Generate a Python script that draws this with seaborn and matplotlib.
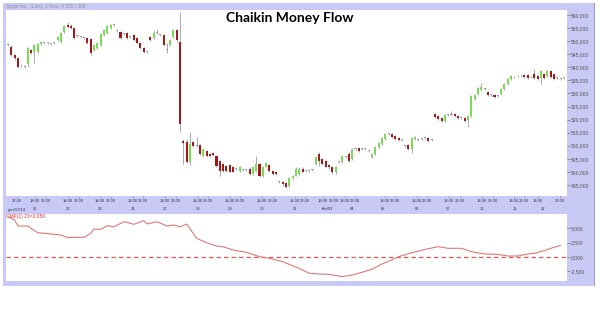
import numpy as np
import pandas as pd
import matplotlib
matplotlib.use("Agg")
import matplotlib.pyplot as plt
import seaborn as sns
from matplotlib.patches import Rectangle
from matplotlib import font_manager

# ---------------- data ----------------
opens = [548.6, 547.9, 544.8, 543.7, 540.7, 540.3, 541.1, 546.7, 546.0, 546.0,
         549.0, 549.4, 549.4, 549.0, 549.4, 550.5, 549.8, 553.6, 556.2, 555.8,
         555.1, 552.0, 551.7, 551.3, 551.3, 550.9, 546.7, 547.5, 548.6, 552.4,
         553.2, 555.1, 556.2, 554.0, 553.6, 552.8, 553.2, 551.7, 552.4, 551.3,
         549.4, 547.5, 546.0, 551.7, 551.3, 553.2, 552.4, 552.4, 546.7, 548.6,
         551.7, 554.3, 549.8, 511.9, 511.5, 503.9, 511.5, 510.0, 510.4, 506.2,
         508.1, 507.0, 507.4, 506.2, 504.3, 503.2, 502.4, 502.8, 502.0, 501.3,
         500.5, 500.9, 500.9, 501.3, 499.4, 500.5, 503.2, 498.3, 502.0, 502.8,
         500.5, 500.1, 496.0, 496.0, 495.6, 494.8, 497.5, 498.6, 499.4, 501.3,
         500.5, 500.5, 500.9, 503.2, 507.0, 505.1, 504.3, 502.8, 502.0, 499.8,
         503.9, 503.9, 505.8, 507.0, 505.1, 508.9, 509.2, 508.9, 508.9, 508.1,
         505.8, 507.0, 509.6, 510.8, 512.6, 514.5, 514.5, 513.8, 513.0, 512.3,
         510.0, 510.4, 508.9, 512.6, 512.3, 512.6, 513.0, 513.0, 512.3, 522.1,
         521.4, 520.6, 519.5, 521.7, 521.7, 522.1, 521.4, 520.6, 520.6, 519.8,
         521.4, 527.8, 529.7, 531.2, 531.6, 530.4, 529.3, 529.3, 528.9, 529.7,
         531.6, 533.5, 535.4, 536.1, 536.5, 536.5, 536.9, 536.9, 536.1, 537.3,
         536.5, 535.8, 537.6, 536.5, 538.4, 537.3, 535.8, 535.4, 535.8]
closes = [548.6, 544.8, 543.7, 540.3, 540.7, 540.3, 547.5, 545.6, 548.6, 549.0,
          549.8, 549.4, 549.4, 549.0, 549.4, 551.7, 553.2, 555.8, 555.5, 555.1,
          551.3, 552.0, 551.7, 551.3, 549.4, 545.6, 548.6, 549.4, 552.8, 554.3,
          555.8, 556.2, 556.2, 554.0, 551.3, 552.8, 551.3, 551.7, 550.5, 549.4,
          547.5, 546.0, 546.0, 550.5, 553.2, 553.2, 552.4, 548.6, 546.7, 550.5,
          554.3, 550.5, 518.3, 511.1, 503.9, 510.8, 510.0, 510.0, 507.0, 508.9,
          506.2, 506.2, 506.6, 502.4, 500.5, 500.5, 500.5, 500.1, 500.1, 501.3,
          502.0, 500.9, 500.9, 499.4, 502.0, 503.2, 498.3, 502.0, 503.5, 500.5,
          499.4, 499.4, 496.0, 495.2, 494.1, 497.5, 498.6, 501.3, 501.3, 500.1,
          500.5, 500.5, 500.9, 505.8, 504.3, 503.2, 502.0, 501.7, 499.8, 502.0,
          503.9, 506.2, 505.8, 504.3, 508.9, 508.9, 508.1, 508.9, 508.9, 508.1,
          507.0, 509.6, 511.1, 513.0, 514.5, 514.5, 513.4, 512.6, 512.3, 512.3,
          510.0, 508.9, 513.0, 513.4, 512.3, 512.6, 513.0, 511.9, 512.3, 521.0,
          520.2, 519.5, 521.7, 521.7, 521.7, 521.4, 520.6, 520.6, 519.5, 521.4,
          528.9, 529.3, 532.0, 532.4, 531.6, 529.3, 529.3, 528.6, 528.9, 531.6,
          533.5, 535.4, 536.5, 536.1, 536.5, 536.5, 536.1, 535.8, 536.1, 535.8,
          535.4, 538.4, 535.8, 538.4, 536.1, 535.4, 535.8, 535.4, 535.8]
highs = [549.2, 548.6, 545.2, 544.0, 541.1, 540.7, 547.9, 547.1, 549.0, 549.4,
         550.2, 549.8, 549.8, 549.4, 549.8, 552.0, 553.6, 556.2, 557.3, 556.6,
         555.5, 552.4, 552.0, 551.7, 551.7, 551.3, 549.0, 549.8, 553.2, 554.7,
         556.2, 556.6, 557.0, 554.3, 554.0, 553.2, 553.6, 552.0, 552.8, 551.7,
         549.8, 547.9, 546.3, 552.0, 554.3, 554.7, 552.8, 552.8, 549.4, 550.9,
         554.7, 554.7, 561.1, 512.6, 512.6, 515.3, 511.9, 513.4, 510.8, 509.2,
         508.5, 507.4, 507.8, 506.6, 504.7, 503.5, 502.8, 503.2, 502.4, 501.7,
         502.4, 501.3, 501.3, 501.7, 502.4, 506.2, 503.5, 502.4, 503.9, 503.2,
         500.9, 500.5, 496.4, 496.4, 496.0, 497.9, 499.0, 501.7, 501.7, 501.7,
         500.9, 500.9, 501.3, 506.2, 507.8, 505.5, 504.7, 503.2, 502.4, 502.4,
         504.3, 506.6, 506.2, 507.8, 509.2, 509.2, 509.6, 509.2, 509.2, 508.5,
         507.4, 510.0, 511.5, 513.4, 514.9, 514.9, 514.9, 514.2, 513.4, 512.6,
         510.4, 510.8, 513.4, 513.8, 512.6, 513.0, 513.4, 513.4, 512.6, 522.5,
         521.7, 521.0, 522.1, 522.1, 523.2, 522.5, 521.7, 521.0, 521.0, 521.7,
         529.3, 529.7, 532.4, 533.9, 532.0, 530.8, 529.7, 529.7, 529.3, 532.0,
         533.9, 535.8, 536.9, 536.5, 536.9, 536.9, 537.3, 537.3, 536.5, 539.2,
         536.9, 538.8, 538.0, 538.8, 538.8, 537.6, 536.1, 535.8, 536.1]
lows = [548.0, 544.2, 542.9, 539.9, 540.3, 539.9, 540.3, 545.2, 541.8, 545.6,
        548.6, 549.0, 549.0, 548.6, 549.0, 550.1, 549.4, 553.2, 555.1, 554.7,
        550.9, 551.7, 551.3, 550.9, 549.0, 544.8, 546.3, 547.1, 548.2, 552.0,
        552.8, 554.7, 555.8, 553.6, 550.9, 552.4, 550.9, 551.3, 550.1, 549.0,
        547.1, 545.6, 545.6, 550.1, 550.9, 552.8, 552.0, 548.2, 545.6, 548.2,
        551.3, 549.8, 515.3, 503.2, 503.5, 502.8, 509.6, 509.6, 506.6, 505.8,
        505.8, 505.8, 506.2, 502.0, 498.6, 500.1, 500.1, 499.8, 499.8, 500.9,
        500.1, 500.5, 500.5, 499.0, 499.0, 500.1, 497.9, 497.9, 501.7, 500.1,
        499.0, 499.0, 495.6, 494.8, 493.7, 494.4, 497.1, 498.3, 499.0, 499.8,
        500.1, 500.1, 500.5, 502.8, 502.4, 502.8, 501.7, 501.3, 499.4, 499.4,
        503.5, 503.5, 505.5, 503.9, 504.7, 508.5, 507.8, 508.5, 508.5, 507.8,
        505.5, 506.6, 509.2, 510.4, 512.3, 514.2, 513.0, 512.3, 511.9, 511.9,
        509.6, 508.5, 507.4, 512.3, 511.9, 512.3, 512.6, 511.5, 511.9, 520.6,
        519.8, 519.1, 519.1, 521.4, 521.4, 521.0, 520.2, 520.2, 519.1, 517.2,
        521.0, 527.4, 529.3, 530.8, 531.2, 528.9, 528.9, 528.2, 528.6, 529.3,
        531.2, 533.1, 535.0, 535.8, 536.1, 536.1, 535.8, 535.4, 535.8, 535.4,
        535.0, 533.5, 535.4, 536.1, 535.8, 535.0, 535.4, 535.0, 535.4]

cmf_bar = [0, 2, 3, 6, 7, 9, 11, 14, 16, 18, 20, 23, 25, 26, 28, 30, 32, 35, 36, 38,
           41, 42, 45, 48, 50, 52, 54, 57, 60, 63, 65, 68, 72, 76, 79, 83, 88, 91, 94, 97,
           101, 104, 107, 110, 113, 116, 118, 122, 127, 130, 133, 137, 140, 144, 148, 151,
           154, 157, 159, 162, 164, 167]
cmf_val = [7.04, 6.47, 5.42, 5.42, 5.01, 4.25, 4.14, 3.96, 3.85, 3.38, 3.44, 3.44, 4.14,
           4.89, 4.84, 5.47, 5.30, 6.17, 6.06, 5.71, 6.35, 5.77, 6.17, 5.42, 5.59, 5.30,
           5.77, 3.27, 2.50, 1.92, 1.80, 1.22, 0.82, 0.05, -0.23, -0.82, -2.00, -2.85,
           -2.97, -3.03, -3.44, -3.15, -2.67, -2.15, -1.22, -0.52, 0.05, 0.75, 1.45, 1.80,
           1.52, 1.52, 0.93, 0.52, 0.47, 0.17, 0.17, 0.52, 0.64, 1.10, 1.52, 2.05]

time_pos = [2.7, 8.2, 11.5, 18.1, 21.5, 27.8, 31.1, 37.8, 40.8, 47.4, 50.8, 57.4, 60.4,
            67.1, 70.1, 76.7, 80.1, 86.7, 89.7, 95.2, 98.5, 101.8, 104.8, 113.9, 116.9,
            123.6, 126.6, 133.2, 136.6, 143.2, 146.5, 152.9, 155.9, 160.1, 166.8]
time_lab = ["22:00"] + ["18:00", "22:00"] * 17
date_pos = [2.7, 8.2, 18.1, 27.8, 37.8, 47.4, 57.4, 67.1, 76.7, 86.7, 96.6, 104.0,
            113.3, 123.6, 133.0, 143.2, 153.2, 161.5]
date_lab = ["gen/17/14", "21", "22", "23", "24", "27", "28", "29", "30", "31", "feb/03",
            "04", "05", "06", "07", "10", "11", "12"]

price_ticks = [495, 500, 505, 510, 515, 520, 525, 530, 535, 540, 545, 550, 555, 560]
cmf_ticks = [5.0, 2.5, 0.0, -2.5]

# ---------------- style ----------------
sns.set_theme(style="white")
plt.rcParams['font.family'] = ['Liberation Sans', 'DejaVu Sans']

names = {f.name for f in font_manager.fontManager.ttflist}
SMALL = ['Liberation Sans Narrow', 'Liberation Sans'] if 'Liberation Sans Narrow' in names \
    else ['Liberation Sans', 'DejaVu Sans']

LAV = "#c9c9f5"
GREEN = "#78dc55"
RED = "#a8161a"
GRAY = "#a0a0a0"

W, H = 600, 320
fig = plt.figure(figsize=(6, 3.2), dpi=100)
fig.patch.set_facecolor("white")


def fx(px):
    return px / W


def fy(py):
    return 1 - py / H


fig.patches.append(Rectangle((fx(3), fy(286)), 591 / W, 283 / H, transform=fig.transFigure,
                             facecolor=LAV, edgecolor="none", zorder=-10))
fig.patches.append(Rectangle((fx(593.5), fy(286)), 1.5 / W, 283 / H, transform=fig.transFigure,
                             facecolor="#9a9ac8", edgecolor="none", zorder=-10))

ax1 = fig.add_axes([fx(6), fy(196), 561 / W, 186 / H])
ax2 = fig.add_axes([fx(6), fy(281), 561 / W, 67 / H])
for ax in (ax1, ax2):
    ax.set_facecolor("white")
    for s in ax.spines.values():
        s.set_visible(False)

# ---------------- candles ----------------
df = pd.DataFrame({"open": opens, "close": closes, "high": highs, "low": lows})
df["bar"] = np.arange(len(df))
df["bottom"] = df[["open", "close"]].min(axis=1)
df["height"] = (df["close"] - df["open"]).abs().clip(lower=0.35)
df["color"] = np.where(df["close"] > df["open"], GREEN,
                       np.where(df["close"] < df["open"], RED, GRAY))

ax1.vlines(df["bar"], df["low"], df["high"], color="#9c9c9c", lw=0.6, zorder=1)
ax1.bar(df["bar"], df["height"], bottom=df["bottom"], width=0.62, color=df["color"],
        linewidth=0, zorder=2)

ax1.set_xlim(-0.6, 168.9)
ax1.set_ylim(490.8, 561.9)
ax1.yaxis.tick_right()
ax1.set_yticks(price_ticks)
ax1.set_yticklabels([f"{v:.3f}".replace(".", ",") for v in price_ticks])
ax1.tick_params(axis="y", length=2, width=0.5, color="#707070", labelsize=3.6,
                labelcolor="#555555", pad=0.6, right=True, left=False)
for t in ax1.get_yticklabels():
    t.set_family(SMALL)
ax1.set_xticks(time_pos)
ax1.set_xticklabels([])
ax1.tick_params(axis="x", length=1.5, width=0.4, color="#8080a0", bottom=True, pad=0)

xt = ax1.get_xaxis_transform()
for p, lab in zip(time_pos, time_lab):
    ax1.text(p, -(200.5 - 196) / 186, lab, transform=xt, ha="center", va="center",
             fontsize=3.0, color="#333355", clip_on=False, family=SMALL)
for p, lab in zip(date_pos, date_lab):
    ax1.text(p, -(209.5 - 196) / 186, lab, transform=xt, ha="center", va="center",
             fontsize=3.0, color="#333355", clip_on=False, family=SMALL)

# ---------------- CMF ----------------
cmf_df = pd.DataFrame({"bar": cmf_bar, "cmf": cmf_val})
sns.lineplot(data=cmf_df, x="bar", y="cmf", ax=ax2, color="#e07070", lw=0.75)
ax2.axhline(0, color="#e85555", lw=0.9, ls=(0, (3.5, 2.5)), zorder=0.5)
ax2.set_xlim(-0.6, 168.9)
ax2.set_ylim(-4.2, 7.52)
ax2.set_xlabel("")
ax2.set_ylabel("")
ax2.set_xticks([])
ax2.yaxis.tick_right()
ax2.set_yticks(cmf_ticks)
ax2.set_yticklabels([f"{v:.3f}".replace(".", ",") for v in cmf_ticks])
ax2.tick_params(axis="y", length=2, width=0.5, color="#707070", labelsize=3.6,
                labelcolor="#555555", pad=0.6, right=True, left=False)
for t in ax2.get_yticklabels():
    t.set_family(SMALL)

# ---------------- texts ----------------
fig.text(fx(6), fy(6.3), "Apple Inc.  (Last), 1 hour, # 155 / 300", fontsize=3.4,
         color="#9090a8", va="center", ha="left", family=SMALL)
fig.text(fx(289.5), fy(22), "Chaikin Money Flow", fontsize=10, fontweight="bold",
         family=["Lato", "DejaVu Sans"], ha="center", va="baseline", color="black")
fig.text(fx(5.5), fy(216.5), "CMF(1) 21=2,050", fontsize=3.6, color="#e03030",
         va="center", ha="left", family=SMALL)

fig.savefig("out.png", dpi=100, facecolor="white")
